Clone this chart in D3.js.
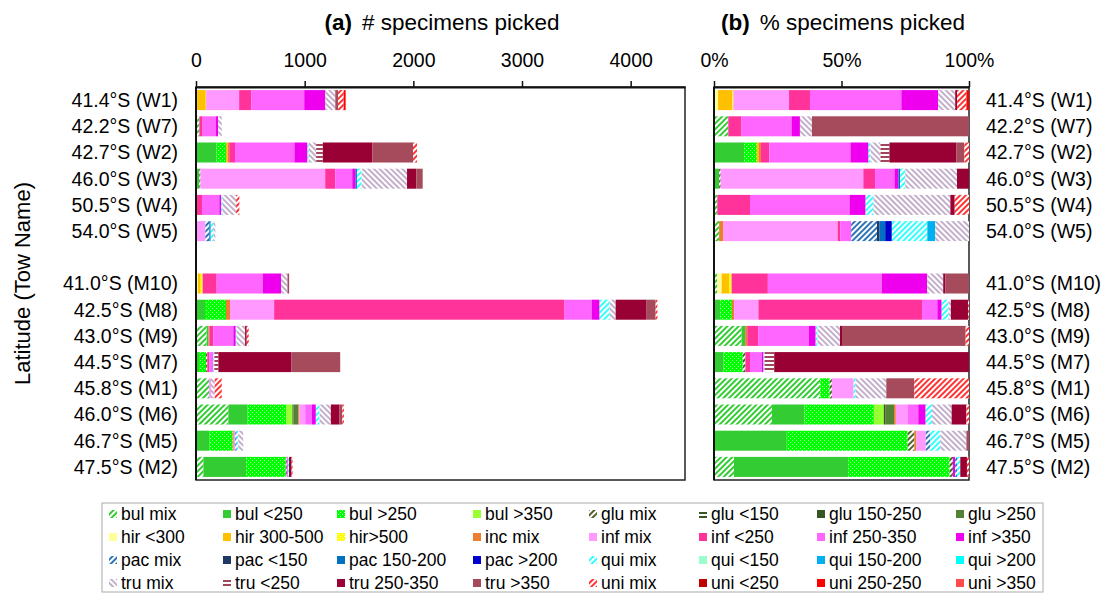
<!DOCTYPE html>
<html><head><meta charset="utf-8">
<script src="https://cdn.jsdelivr.net/npm/d3@7/dist/d3.min.js"></script>
<style>
body{margin:0;background:#fff}
text{font-family:"Liberation Sans",Arial,sans-serif;fill:#000}
</style>
</head><body>
<svg id="chart" width="1112" height="595"></svg>
<script>
// ---------------- DATA ----------------
const categories = [
 "bul mix","bul <250","bul >250","bul >350","glu mix","glu <150","glu 150-250","glu >250",
 "hir <300","hir 300-500","hir>500","inc mix","inf mix","inf <250","inf 250-350","inf >350",
 "pac mix","pac <150","pac 150-200","pac >200","qui mix","qui <150","qui 150-200","qui >200",
 "tru mix","tru <250","tru 250-350","tru >350","uni mix","uni <250","uni 250-250","uni >350"];

const towIds = ["W1","W7","W2","W3","W4","W5","M10","M8","M9","M7","M1","M6","M5","M2"];
const towLabels = ["41.4°S (W1)","42.2°S (W7)","42.7°S (W2)","46.0°S (W3)","50.5°S (W4)","54.0°S (W5)",
 "41.0°S (M10)","42.5°S (M8)","43.0°S (M9)","44.5°S (M7)","45.8°S (M1)","46.0°S (M6)","46.7°S (M5)","47.5°S (M2)"];

const countTicks = [0,1000,2000,3000,4000];
const pctTicks = [0,0.5,1];

// (a) number of specimens picked
const cntW1 = [["hir <300",10],["hir 300-500",80],["hir>500",3],["inf mix",304],["inf <250",111],["inf 250-350",488],["inf >350",194],["tru mix",92],["tru >350",25],["uni mix",52],["uni 250-250",18]];
const cntW7 = [["bul mix",31],["inf <250",30],["inf 250-350",123],["inf >350",19],["tru mix",34]];
const cntW2 = [["bul <250",190],["bul >250",86],["hir 300-500",15],["inc mix",15],["inf <250",53],["inf 250-350",547],["inf >350",120],["qui mix",12],["tru mix",68],["tru <250",61],["tru 250-350",455],["tru >350",375],["uni mix",37]];
const cntW3 = [["bul <250",31],["glu mix",10],["inf mix",1148],["inf <250",92],["inf 250-350",157],["inf >350",31],["pac 150-200",12],["qui mix",43],["tru mix",418],["tru 250-350",86],["tru >350",58]];
const cntW4 = [["inf <250",55],["inf 250-350",160],["inf >350",18],["qui mix",13],["tru mix",123],["uni mix",30]];
const cntW5 = [["bul mix",3],["inc mix",3],["inf mix",80],["pac mix",37],["pac 150-200",12],["qui mix",25],["tru mix",18]];
const cntM10 = [["hir <300",18],["hir 300-500",25],["hir>500",18],["inf <250",129],["inf 250-350",424],["inf >350",169],["tru mix",59],["tru >350",15]];
const cntM8 = [["bul <250",83],["bul >250",193],["inc mix",37],["inf mix",406],["inf <250",2673],["inf 250-350",249],["inf >350",73],["qui mix",92],["tru mix",56],["tru 250-350",285],["tru >350",83],["uni mix",16]];
const cntM9 = [["bul mix",98],["bul <250",16],["inc mix",9],["inf <250",37],["inf 250-350",184],["inf >350",22],["qui mix",9],["tru mix",77],["tru 250-350",15],["uni mix",18]];
const cntM7 = [["bul <250",28],["bul >250",64],["glu mix",12],["inf <250",19],["inf 250-350",37],["qui mix",9],["tru <250",37],["tru 250-350",670],["tru >350",451]];
const cntM1 = [["bul mix",120],["inf mix",18],["tru mix",34],["uni mix",65]];
const cntM6 = [["bul mix",298],["bul <250",175],["bul >250",356],["bul >350",59],["glu 150-250",9],["glu >250",46],["inc mix",9],["inf mix",53],["inf 250-350",61],["inf >350",37],["qui mix",34],["tru mix",104],["tru 250-350",80],["tru >350",25],["uni mix",15]];
const cntM5 = [["bul <250",123],["bul >250",215],["inc mix",9],["inf mix",15],["pac mix",12],["qui mix",15],["tru mix",46]];
const cntM2 = [["bul mix",68],["bul <250",393],["bul >250",365],["glu mix",9],["inf >350",9],["qui mix",12],["tru 250-350",24],["uni mix",9]];

// (b) percent of specimens picked
const pctW1 = [["hir <300",1.6],["hir 300-500",5.6],["hir>500",0.4],["inf mix",21.8],["inf <250",8.2],["inf 250-350",35.8],["inf >350",14.4],["tru mix",6.7],["tru 250-350",0.7],["uni mix",3.7],["uni 250-250",1.0]];
const pctW7 = [["bul mix",5.6],["inf <250",5.2],["inf 250-350",19.6],["inf >350",3.3],["tru mix",4.7],["tru >350",61.6]];
const pctW2 = [["bul <250",11.8],["bul >250",5.0],["hir 300-500",0.8],["inc mix",0.8],["inf <250",3.3],["inf 250-350",31.8],["inf >350",7.1],["qui mix",0.8],["tru mix",3.9],["tru <250",3.5],["tru 250-350",26.3],["tru >350",3.1],["uni mix",1.8]];
const pctW3 = [["bul <250",2.0],["glu mix",0.6],["inf mix",55.9],["inf <250",4.6],["inf 250-350",7.6],["inf >350",1.6],["pac 150-200",0.6],["qui mix",2.0],["tru mix",20.3],["tru 250-350",4.7]];
const pctW4 = [["bul mix",1.3],["inf <250",12.8],["inf 250-350",39.0],["inf >350",6.3],["qui mix",3.1],["tru mix",30.1],["tru 250-350",1.7],["uni mix",5.6]];
const pctW5 = [["bul mix",2.0],["inc mix",1.7],["inf mix",44.7],["inf <250",1.0],["inf 250-350",4.3],["pac mix",10.1],["pac <150",1.0],["pac 150-200",2.2],["pac >200",2.6],["qui mix",13.9],["qui 150-200",3.1],["tru mix",13.2]];
const pctM10 = [["bul mix",1.3],["hir <300",1.7],["hir 300-500",2.9],["hir>500",1.0],["inf <250",14.2],["inf 250-350",44.6],["inf >350",17.8],["tru mix",6.3],["tru 250-350",0.9],["tru >350",9.2]];
const pctM8 = [["bul <250",2.4],["bul >250",4.6],["inc mix",0.9],["inf mix",9.5],["inf <250",64.1],["inf 250-350",6.0],["inf >350",1.7],["qui mix",2.7],["tru mix",0.9],["tru 250-350",6.7],["uni mix",0.4]];
const pctM9 = [["bul mix",10.8],["bul <250",1.4],["inc mix",0.8],["inf <250",4.4],["inf 250-350",19.7],["inf >350",2.7],["qui mix",0.7],["tru mix",8.8],["tru 250-350",0.8],["tru >350",48.4],["uni mix",1.3]];
const pctM7 = [["bul <250",3.7],["bul >250",7.6],["glu mix",1.0],["inf <250",1.8],["inf 250-350",4.6],["inf >350",0.7],["qui mix",0.4],["tru <250",3.8],["tru 250-350",76.3]];
const pctM1 = [["bul mix",41.6],["bul >250",3.7],["glu mix",0.9],["inf mix",8.5],["qui mix",0.8],["tru mix",12.0],["tru >350",11.0],["uni mix",21.4]];
const pctM6 = [["bul mix",22.7],["bul <250",12.8],["bul >250",27.2],["bul >350",3.9],["glu 150-250",0.7],["glu >250",3.3],["inc mix",0.7],["inf mix",4.6],["inf 250-350",4.2],["inf >350",2.9],["qui mix",2.5],["tru mix",7.7],["tru 250-350",5.8],["uni mix",1.0]];
const pctM5 = [["bul <250",28.5],["bul >250",47.3],["glu mix",2.6],["inc mix",0.8],["inf mix",3.7],["pac mix",1.8],["qui mix",3.9],["tru mix",10.2],["tru >350",1.0]];
const pctM2 = [["bul mix",7.8],["bul <250",44.7],["bul >250",39.7],["glu mix",1.3],["inf >350",0.9],["pac mix",0.7],["qui mix",1.3],["tru 250-350",2.6],["uni mix",0.8]];

const countRows = [cntW1,cntW7,cntW2,cntW3,cntW4,cntW5,cntM10,cntM8,cntM9,cntM7,cntM1,cntM6,cntM5,cntM2];
const pctRows = [pctW1,pctW7,pctW2,pctW3,pctW4,pctW5,pctM10,pctM8,pctM9,pctM7,pctM1,pctM6,pctM5,pctM2];

// ---------------- STYLES ----------------
const catStyle = {
 "bul mix":["diag","#33CC33"],"bul <250":["solid","#33CC33"],"bul >250":["dots","#00FF00"],"bul >350":["solid","#99FF33"],
 "glu mix":["diag","#4F6228"],"glu <150":["hlines","#375623"],"glu 150-250":["solid","#375623"],"glu >250":["solid","#548235"],
 "hir <300":["solid","#FFFF99"],"hir 300-500":["solid","#FFC000"],"hir>500":["dots","#FFFF00"],"inc mix":["solid","#ED7D31"],
 "inf mix":["solid","#FF99FF"],"inf <250":["solid","#FF3399"],"inf 250-350":["solid","#FF66FF"],"inf >350":["solid","#EE00EE"],
 "pac mix":["diag","#2E75B6"],"pac <150":["solid","#1F3864"],"pac 150-200":["solid","#0070C0"],"pac >200":["solid","#0000CC"],
 "qui mix":["diag","#33FFFF"],"qui <150":["solid","#99FFCC"],"qui 150-200":["solid","#00B0F0"],"qui >200":["solid","#00FFFF"],
 "tru mix":["diagb","#C4AFCB"],"tru <250":["hlines","#A0455A"],"tru 250-350":["solid","#990033"],"tru >350":["solid","#A64B5C"],
 "uni mix":["diag","#FF3333"],"uni <250":["solid","#C00000"],"uni 250-250":["solid","#FF0000"],"uni >350":["solid","#FF4B4B"]
};

const svg = d3.select("#chart");
const defs = svg.append("defs");
const fillOf = {};
categories.forEach((c,i)=>{
  const [t,col] = catStyle[c];
  if(t==="solid"){ fillOf[c]=col; return; }
  const id="pat"+i;
  const p = defs.append("pattern").attr("id",id).attr("patternUnits","userSpaceOnUse")
     .attr("width",4).attr("height",4);
  if(t==="diag"||t==="diagb"){
    p.attr("patternTransform", t==="diag"?"rotate(45)":"rotate(-45)");
    p.append("rect").attr("width",4).attr("height",4).attr("fill","#fff");
    p.append("rect").attr("width",2).attr("height",4).attr("fill",col);
  } else if(t==="dots"){
    p.append("rect").attr("width",4).attr("height",4).attr("fill",col);
    p.append("rect").attr("x",0).attr("y",0).attr("width",1).attr("height",1).attr("fill","#fff").attr("opacity",0.7);
    p.append("rect").attr("x",2).attr("y",2).attr("width",1).attr("height",1).attr("fill","#fff").attr("opacity",0.7);
  } else if(t==="hlines"){
    p.append("rect").attr("width",4).attr("height",4).attr("fill","#fff");
    p.append("rect").attr("width",4).attr("height",2).attr("fill",col);
  }
  fillOf[c]="url(#"+id+")";
});

// ---------------- LAYOUT ----------------
const plotTop=87, plotBottom=480;
const bandDomain = towIds.slice(0,6).concat(["_gap"]).concat(towIds.slice(6));
const y = d3.scaleBand().domain(bandDomain).range([plotTop,plotBottom]).paddingInner(0.236).paddingOuter(0.118);

const xa = d3.scaleLinear().domain([0,4500]).range([196,685]);
const xb = d3.scaleLinear().domain([0,1]).range([714,969]);

function toTable(rows){
  return rows.map((pairs,i)=>{
    const o={id:towIds[i]}; categories.forEach(c=>o[c]=0);
    pairs.forEach(([k,v])=>o[k]=v); return o;
  });
}
const stackA = d3.stack().keys(categories)(toTable(countRows));
const stackB = d3.stack().keys(categories).offset(d3.stackOffsetExpand)(toTable(pctRows));

function drawBars(stacked, x, cls){
  const g = svg.append("g").attr("class",cls);
  stacked.forEach(series=>{
    g.selectAll(null).data(series.filter(d=>d[1]-d[0]>1e-9)).join("rect")
      .attr("x",d=>x(d[0])).attr("width",d=>x(d[1])-x(d[0]))
      .attr("y",d=>y(d.data.id)).attr("height",y.bandwidth())
      .attr("fill",fillOf[series.key]);
  });
}

// frames
svg.append("rect").attr("x",196).attr("y",plotTop).attr("width",685-196).attr("height",plotBottom-plotTop)
  .attr("fill","none").attr("stroke","#222").attr("stroke-width",1.5);
svg.append("rect").attr("x",714).attr("y",plotTop).attr("width",969-714).attr("height",plotBottom-plotTop)
  .attr("fill","none").attr("stroke","#222").attr("stroke-width",1.5);

drawBars(stackA, xa, "barsA");
drawBars(stackB, xb, "barsB");

// left edges thicker
svg.append("line").attr("x1",196).attr("x2",196).attr("y1",plotTop).attr("y2",plotBottom).attr("stroke","#111").attr("stroke-width",2);
svg.append("line").attr("x1",714).attr("x2",714).attr("y1",plotTop).attr("y2",plotBottom).attr("stroke","#111").attr("stroke-width",2);

// axes
const axA = svg.append("g").attr("transform",`translate(0,${plotTop})`)
  .call(d3.axisTop(xa).tickValues(countTicks).tickFormat(d3.format("d")).tickSize(6).tickSizeOuter(0).tickPadding(14));
const axB = svg.append("g").attr("transform",`translate(0,${plotTop})`)
  .call(d3.axisTop(xb).tickValues(pctTicks).tickFormat(d3.format(".0%")).tickSize(6).tickSizeOuter(0).tickPadding(14));
[axA,axB].forEach(a=>{
  a.select(".domain").attr("stroke","#111").attr("stroke-width",2);
  a.selectAll(".tick line").attr("stroke","#111").attr("stroke-width",1.5);
  a.selectAll(".tick text").attr("font-size",19.5).attr("font-family","'Liberation Sans',Arial,sans-serif").attr("fill","#000");
});

// titles
function title(cx, bold, rest){
  const t = svg.append("text").attr("x",cx).attr("y",30).attr("text-anchor","middle").attr("font-size",22.5);
  t.append("tspan").attr("font-weight","bold").text(bold);
  t.append("tspan").attr("dx",10).text(rest);
}
title(442,"(a)","# specimens picked");
title(843,"(b)","% specimens picked");

// row labels
towIds.forEach((id,i)=>{
  const cy = y(id)+y.bandwidth()/2;
  svg.append("text").attr("x",178).attr("y",cy).attr("dy","0.35em").attr("text-anchor","end")
    .attr("font-size",19.5).text(towLabels[i]);
  svg.append("text").attr("x",986).attr("y",cy).attr("dy","0.35em").attr("text-anchor","start")
    .attr("font-size",19.5).text(towLabels[i]);
});

svg.append("text").attr("transform",`translate(30,${(plotTop+plotBottom)/2}) rotate(-90)`)
  .attr("text-anchor","middle").attr("font-size",22).text("Latitude (Tow Name)");

// legend
const legCols = [109,223,337,473,589,699,817,956];
const legRows = [514,537,560,583];
svg.append("rect").attr("x",102).attr("y",503).attr("width",941).attr("height",89)
  .attr("fill","#fff").attr("stroke","#aaa").attr("stroke-width",1);
categories.forEach((c,i)=>{
  const cx = legCols[i%8], cy = legRows[Math.floor(i/8)];
  svg.append("rect").attr("x",cx).attr("y",cy-4).attr("width",8).attr("height",8).attr("fill",fillOf[c]);
  svg.append("text").attr("x",cx+12).attr("y",cy).attr("dy","0.35em").attr("font-size",17.5).text(c);
});
</script>
</body></html>
